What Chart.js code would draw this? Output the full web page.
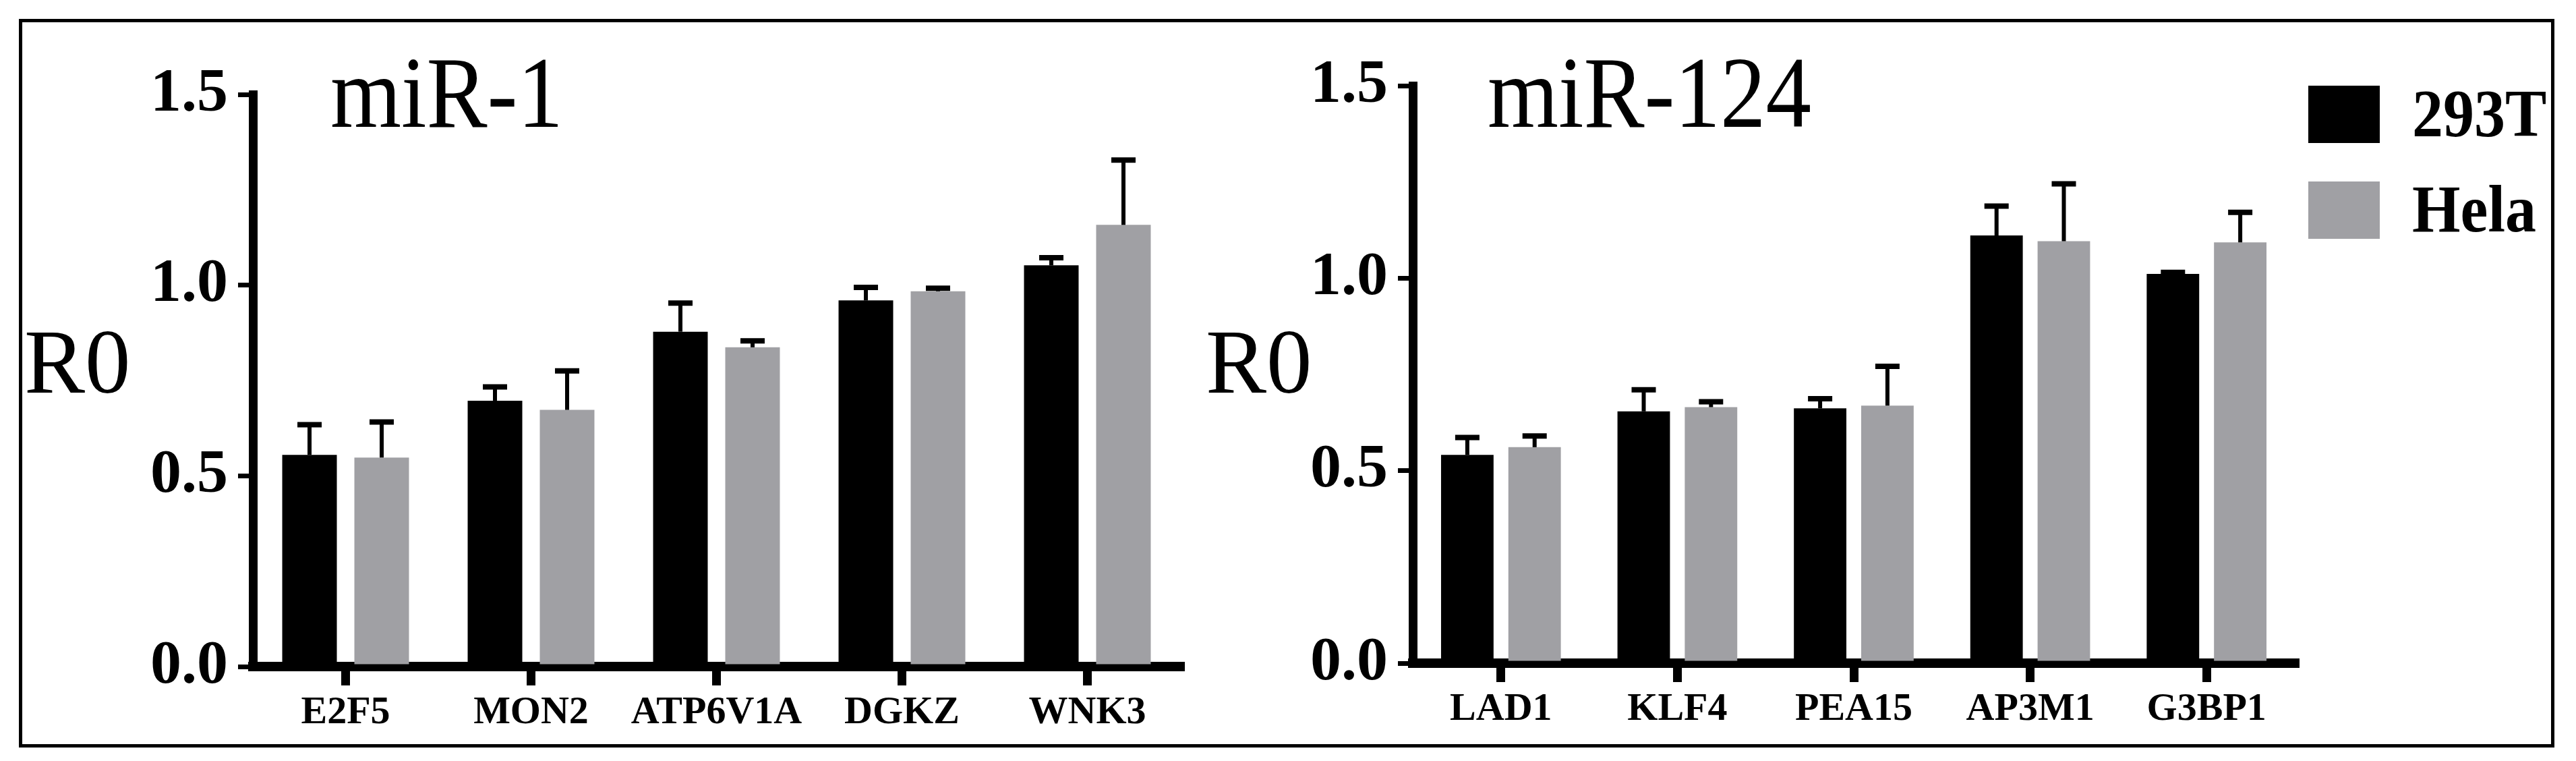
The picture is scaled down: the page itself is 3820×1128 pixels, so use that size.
<!DOCTYPE html>
<html>
<head>
<meta charset="utf-8">
<script src="https://cdn.jsdelivr.net/npm/chart.js@4.4.1/dist/chart.umd.min.js"></script>
<style>
  html, body { margin: 0; padding: 0; background: #fff; }
  #page { position: relative; width: 3820px; height: 1128px; overflow: hidden; background: #fff; }
  #frame { position: absolute; left: 28px; top: 28px; width: 3760px; height: 1080px; box-sizing: border-box; border: 5px solid #000; }
  canvas { position: absolute; top: 0; }
  #left { left: 0; }
  #right { left: 1900px; }
  .txt { position: absolute; font-family: "Liberation Serif", "Times New Roman", serif; line-height: 1; white-space: nowrap; color: #000; transform-origin: 0 0; }
  .title { font-size: 150px; top: 62px; transform: scaleX(0.9); }
  .ylab { font-size: 135px; top: 469px; }
  .legend-box { position: absolute; width: 106px; height: 85px; }
  .legend-txt { font-size: 100px; font-weight: bold; transform: scaleX(0.92); }
</style>
</head>
<body>
<div id="page">
  <canvas id="left" width="1900" height="1128"></canvas>
  <canvas id="right" width="1920" height="1128"></canvas>
  <div id="frame"></div>
  <div class="txt title" id="titleLeft" style="left:490px;"></div>
  <div class="txt title" id="titleRight" style="left:2206px;"></div>
  <div class="txt ylab" style="left:36px;">R0</div>
  <div class="txt ylab" style="left:1788px;">R0</div>
  <div id="legend"></div>
</div>
<script>
// panel titles
const panelTitles = ["miR-1", "miR-124"];
const seriesNames = ["293T", "Hela"];
const seriesColors = ["#000000", "#a0a0a4"];
const yTicks = [0, 0.5, 1.0, 1.5];

// miR-1 panel
const leftGenes = ["E2F5", "MON2", "ATP6V1A", "DGKZ", "WNK3"];
const left293T = [0.555, 0.697, 0.878, 0.960, 1.052];
const left293TErr = [0.079, 0.036, 0.075, 0.034, 0.020];
const leftHela = [0.548, 0.673, 0.837, 0.984, 1.158];
const leftHelaErr = [0.093, 0.102, 0.017, 0.008, 0.170];

// miR-124 panel
const rightGenes = ["LAD1", "KLF4", "PEA15", "AP3M1", "G3BP1"];
const right293T = [0.541, 0.654, 0.662, 1.111, 1.011];
const right293TErr = [0.045, 0.056, 0.025, 0.076, 0.004];
const rightHela = [0.561, 0.665, 0.669, 1.096, 1.093];
const rightHelaErr = [0.029, 0.014, 0.102, 0.149, 0.078];

const serif = "'Liberation Serif', 'Times New Roman', serif";

// draws one-sided (upper) error bars on top of every bar
const errorBars = {
  id: "errorBars",
  afterDatasetsDraw(chart) {
    const ctx = chart.ctx;
    const yScale = chart.scales.y;
    chart.data.datasets.forEach((ds, i) => {
      const meta = chart.getDatasetMeta(i);
      meta.data.forEach((bar, j) => {
        const top = yScale.getPixelForValue(ds.data[j] + ds.errors[j]);
        ctx.save();
        ctx.strokeStyle = "#000";
        ctx.lineWidth = 6;
        ctx.beginPath();
        ctx.moveTo(bar.x, bar.y);
        ctx.lineTo(bar.x, top);
        ctx.stroke();
        ctx.lineWidth = 8;
        ctx.beginPath();
        ctx.moveTo(bar.x - 18, top);
        ctx.lineTo(bar.x + 18, top);
        ctx.stroke();
        ctx.restore();
      });
    });
  }
};

const makePanel = (canvasId, genes, a, aErr, b, bErr, box) => {
  return new Chart(document.getElementById(canvasId), {
    type: "bar",
    data: {
      labels: genes,
      datasets: [
        { label: seriesNames[0], data: a, errors: aErr, backgroundColor: seriesColors[0],
          categoryPercentage: box.cp, barPercentage: box.bp },
        { label: seriesNames[1], data: b, errors: bErr, backgroundColor: seriesColors[1],
          categoryPercentage: box.cp, barPercentage: box.bp }
      ]
    },
    options: {
      responsive: false,
      animation: false,
      devicePixelRatio: 1,
      layout: { padding: { top: box.top, right: box.right, left: 0, bottom: 0 } },
      plugins: { legend: { display: false }, tooltip: { enabled: false }, title: { display: false } },
      scales: {
        x: {
          z: 1,
          grid: { offset: false, drawOnChartArea: false, drawTicks: true, tickLength: 28, lineWidth: 13, color: "#000" },
          border: { display: true, width: 14, color: "#000" },
          ticks: { color: "#000", padding: 6, autoSkip: false, maxRotation: 0, minRotation: 0,
                   font: { family: serif, size: 58, weight: "bold" } },
          afterFit: (scale) => { scale.height = box.xHeight; }
        },
        y: {
          z: 1,
          min: 0,
          max: 1.5,
          afterBuildTicks: (scale) => { scale.ticks = yTicks.map(v => ({ value: v })); },
          grid: { drawOnChartArea: false, drawTicks: true, tickLength: 22, lineWidth: 7, color: "#000" },
          border: { display: true, width: 13, color: "#000" },
          ticks: { color: "#000", padding: 15, font: { family: serif, size: 92, weight: "bold" },
                   callback: (v) => Number(v).toFixed(1) },
          afterFit: (scale) => { scale.width = box.yWidth; }
        }
      }
    },
    plugins: [errorBars]
  });
};

makePanel("left", leftGenes, left293T, left293TErr, leftHela, leftHelaErr,
  { top: 140, right: 150, xHeight: 140, yWidth: 375, cp: 0.778, bp: 0.757 });
makePanel("right", rightGenes, right293T, right293TErr, rightHela, rightHelaErr,
  { top: 127, right: 417, xHeight: 145, yWidth: 195, cp: 0.763, bp: 0.78 });

document.getElementById("titleLeft").textContent = panelTitles[0];
document.getElementById("titleRight").textContent = panelTitles[1];

// legend built from the series arrays
const legend = document.getElementById("legend");
seriesNames.forEach((name, i) => {
  const top = 127 + i * 142;
  const sq = document.createElement("div");
  sq.className = "legend-box";
  sq.style.left = "3423px";
  sq.style.top = top + "px";
  sq.style.background = seriesColors[i];
  legend.appendChild(sq);
  const t = document.createElement("div");
  t.className = "txt legend-txt";
  t.style.left = "3577px";
  t.style.top = (top - 9) + "px";
  t.textContent = name;
  legend.appendChild(t);
});
</script>
</body>
</html>
